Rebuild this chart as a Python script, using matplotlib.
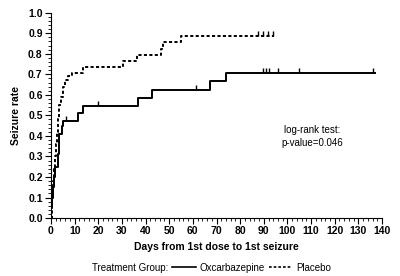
import numpy as np
import matplotlib
matplotlib.use("Agg")
import matplotlib.pyplot as plt
from matplotlib.lines import Line2D

plt.rcParams['font.family'] = ['Liberation Sans', 'DejaVu Sans']

# Oxcarbazepine (solid) step curve: event days and seizure rate after each step
oxc_days = [0, 0.2, 0.5, 0.8, 1.2, 1.7, 3.1, 3.4, 4.5, 5.2, 11.3, 13.7, 36.8, 42.6, 67.3, 73.9, 137]
oxc_rate = [0, 0.05, 0.10, 0.15, 0.20, 0.25, 0.31, 0.41, 0.45, 0.472, 0.51, 0.545, 0.585, 0.623, 0.665, 0.708, 0.708]
oxc_censor = [6.2, 19.9, 61.3, 89.8, 91.0, 92.1, 96.2, 104.9, 136.1]

# Placebo (dotted) step curve
pla_days = [0, 0.3, 0.6, 1.0, 1.4, 1.8, 2.2, 2.6, 3.0, 3.5, 4.2, 5.2, 6.0, 7.3, 8.8, 13.5, 30.5, 36.5, 46.5, 47.5, 55.0, 94.5]
pla_rate = [0, 0.06, 0.12, 0.18, 0.24, 0.30, 0.36, 0.42, 0.48, 0.55, 0.59, 0.64, 0.67, 0.69, 0.705, 0.735, 0.765, 0.795, 0.825, 0.855, 0.888, 0.888]
pla_censor = [87.6, 89.7, 91.8, 94.0]

xticks = np.arange(0, 141, 10)
yticks = np.arange(0, 1.01, 0.1)
dots = (0, (1.6, 1.2))


def rate_at(days, rate, t):
    idx = np.searchsorted(days, t, side='right') - 1
    return rate[idx]


fig = plt.figure(figsize=(4.0, 2.76), dpi=100)
ax = fig.add_axes([0.1275, 0.21, 0.8275, 0.744])

ax.step(oxc_days, oxc_rate, where='post', color='black', lw=1.4)
ax.step(pla_days, pla_rate, where='post', color='black', lw=1.4, linestyle=dots)

# censoring marks
for t in oxc_censor:
    y = rate_at(oxc_days, oxc_rate, t)
    ax.vlines(t, y, y + 0.025, color='black', lw=1.0)
for t in pla_censor:
    y = rate_at(pla_days, pla_rate, t)
    ax.vlines(t, y, y + 0.025, color='black', lw=1.0)

ax.set_xlim(0, 140)
ax.set_ylim(0, 1.0)
ax.set_xticks(xticks)
ax.set_yticks(yticks)
ax.set_xticks(np.arange(0, 141, 2), minor=True)
ax.set_yticks(np.arange(0, 1.001, 0.02), minor=True)
ax.set_yticklabels([f"{v:.1f}" for v in yticks], fontsize=7.5, fontweight='bold')
ax.set_xticklabels([str(v) for v in xticks], fontsize=7.5, fontweight='bold')
ax.tick_params(which='major', length=4, width=0.8, direction='out', pad=2)
ax.tick_params(which='minor', length=2.5, width=0.6, direction='out')
ax.spines['top'].set_visible(False)
ax.spines['right'].set_visible(False)

ax.set_ylabel("Seizure rate", fontsize=7.5, fontweight='bold', labelpad=5)
ax.set_xlabel("Days from 1st dose to 1st seizure", fontsize=7.5, fontweight='bold', labelpad=4)

ax.text(110.5, 0.43, "log-rank test:", fontsize=7, ha='center', va='center')
ax.text(110.5, 0.365, "p-value=0.046", fontsize=7, ha='center', va='center')

# legend row: label text followed by the two line keys
tg = fig.text(0.23, 0.03, "Treatment Group:", fontsize=7, ha='left', va='center')
fig.canvas.draw()
bb = tg.get_window_extent().transformed(fig.transFigure.inverted())
handles = [Line2D([], [], color='black', lw=1.2),
           Line2D([], [], color='black', lw=1.2, linestyle=dots)]
fig.legend(handles, ["Oxcarbazepine", "Placebo"], loc='center left',
           bbox_to_anchor=(bb.x1 + 0.01, 0.03), ncol=2, frameon=False, fontsize=7,
           handlelength=2.4, handletextpad=0.4, columnspacing=0.4,
           borderaxespad=0, borderpad=0)

fig.savefig("out.png", dpi=100)
